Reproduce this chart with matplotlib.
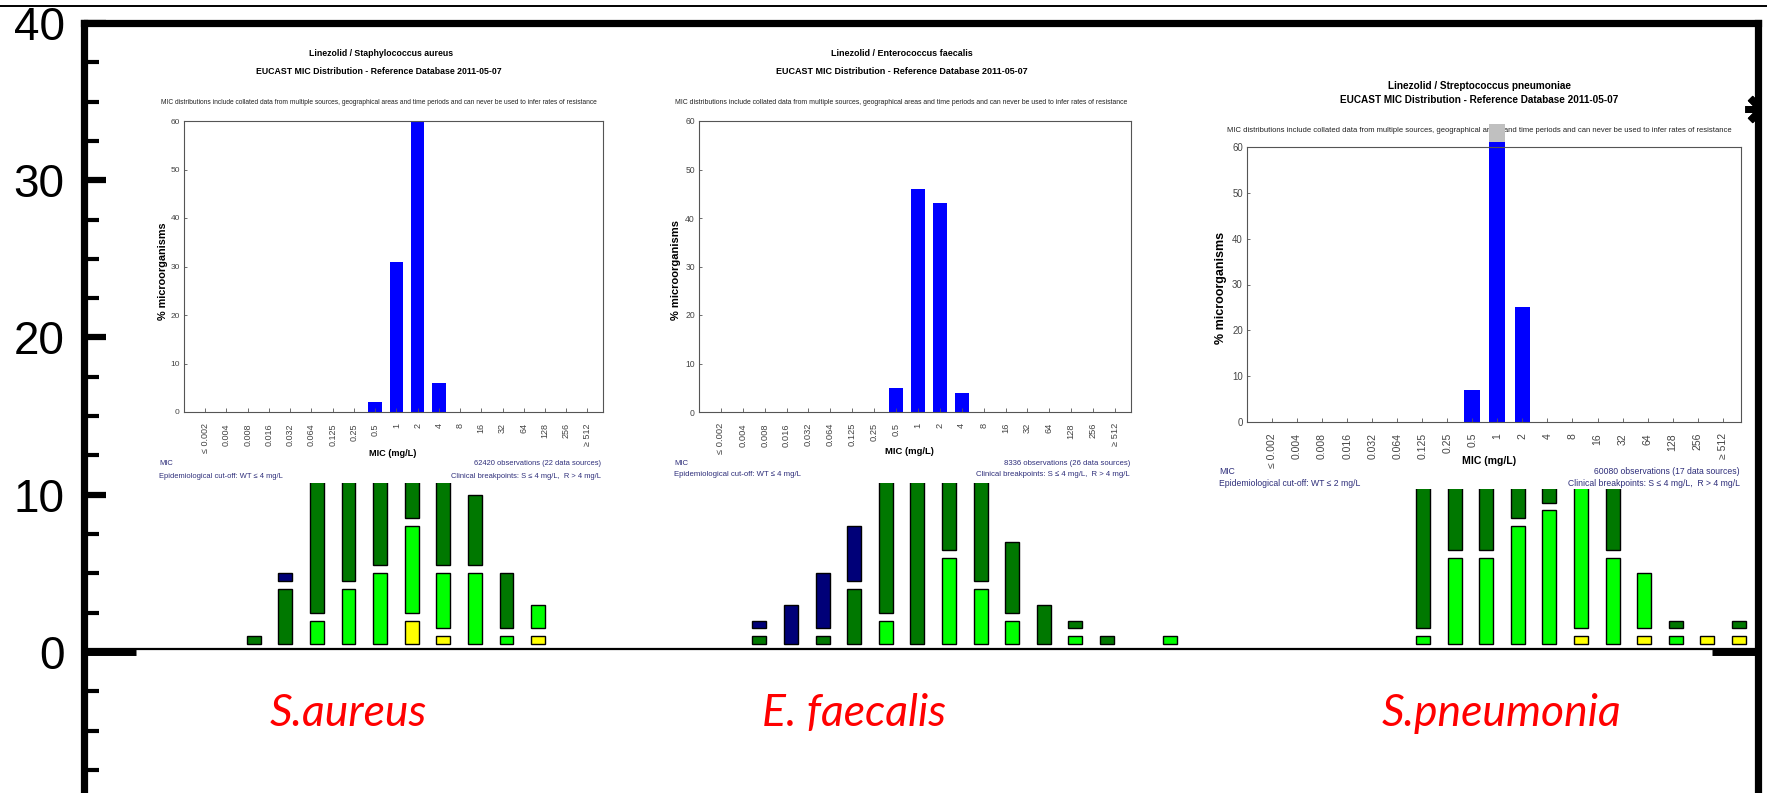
import numpy as np
import matplotlib.pyplot as plt
from matplotlib import font_manager
from matplotlib.lines import Line2D

W, H = 1767, 793
DPI = 100

installed = {f.name for f in font_manager.fontManager.ttflist}
NARROW = 'Liberation Sans Narrow' if 'Liberation Sans Narrow' in installed else 'Liberation Sans'

# MIC scale used by the EUCAST distribution panels
mic_labels = ['≤ 0.002', '0.004', '0.008', '0.016', '0.032', '0.064', '0.125', '0.25', '0.5',
              '1', '2', '4', '8', '16', '32', '64', '128', '256', '≥ 512']

# % of isolates per MIC (EUCAST linezolid distributions)
sa_pct = [0, 0, 0, 0, 0, 0, 0, 0, 2, 31, 60, 6, 0, 0, 0, 0, 0, 0, 0]
ef_pct = [0, 0, 0, 0, 0, 0, 0, 0, 5, 46, 43, 4, 0, 0, 0, 0, 0, 0, 0]
sp_pct = [0, 0, 0, 0, 0, 0, 0, 0, 7, 61, 25, 0, 0, 0, 0, 0, 0, 0, 0]

# stacked counts per slot: yellow, light green, dark green, navy (bottom -> top)
sa_yellow = [0, 0, 0, 0, 0, 2, 1, 0, 0, 1]
sa_light = [0, 0, 2, 4, 5, 6, 4, 5, 1, 2]
sa_dark = [1, 4, 12, 10, 9, 6, 9, 5, 4, 0]
sa_navy = [0, 1, 0, 0, 0, 0, 0, 0, 0, 0]

ef_yellow = [0, 0, 0, 0, 0, 0, 0, 0, 0, 0, 0, 0, 0, 0]
ef_light = [0, 0, 0, 0, 2, 0, 6, 4, 2, 0, 1, 0, 0, 1]
ef_dark = [1, 0, 1, 4, 11, 15, 8, 9, 5, 3, 1, 1, 0, 0]
ef_navy = [1, 3, 4, 4, 0, 0, 0, 0, 0, 0, 0, 0, 0, 0]

sp_yellow = [0, 0, 0, 0, 0, 1, 0, 1, 0, 1, 1]
sp_light = [1, 6, 6, 8, 9, 12, 6, 4, 1, 0, 0]
sp_dark = [13, 8, 8, 5, 3, 0, 7, 0, 1, 0, 1]
sp_navy = [0, 0, 0, 0, 0, 0, 0, 0, 0, 0, 0]

organisms = ['S.aureus', 'E. faecalis', 'S.pneumonia']
group_start = [0, 16, 37]

COLORS = ['#ffff00', '#00ff00', '#007800', '#000078']


def fbox(x0, y0, x1, y1):
    # pixel box (origin top-left) -> figure fraction rect
    return [x0 / W, 1 - y1 / H, (x1 - x0) / W, (y1 - y0) / H]


def stack(ax, x, layers):
    base = np.zeros(len(x))
    for counts, color in zip(layers, COLORS):
        counts = np.asarray(counts, float)
        m = counts > 0
        ax.bar(x[m], counts[m] - 0.5, bottom=base[m] + 0.5, width=0.44,
               color=color, edgecolor='black', linewidth=1.0, zorder=2)
        base += counts


fig = plt.figure(figsize=(W / DPI, H / DPI), dpi=DPI)
fig.add_artist(Line2D([0, 1], [1 - 6 / H] * 2, color='black', lw=1.4))

ax = fig.add_axes(fbox(84, 23, 1758, H))
ax.set_xlim(-5.37, 47.6)
ax.set_ylim(-8.97, 40)
for side in ['left', 'top', 'right']:
    ax.spines[side].set_linewidth(5.2)
ax.spines['bottom'].set_visible(False)
ax.set_xticks([])
ax.set_yticks([0, 10, 20, 30, 40])
ax.set_yticks(np.arange(-7.5, 40, 2.5), minor=True)
ax.tick_params(axis='y', which='major', direction='in', length=16, width=4.5,
               labelsize=33, pad=14)
ax.tick_params(axis='y', which='minor', direction='in', length=11, width=3)
for lab in ax.get_yticklabels():
    lab.set_fontfamily('Liberation Sans')

groups = [
    (sa_yellow, sa_light, sa_dark, sa_navy),
    (ef_yellow, ef_light, ef_dark, ef_navy),
    (sp_yellow, sp_light, sp_dark, sp_navy),
]
label_offset = [3.0, 3.0, 2.5]
for start, layers, name, off in zip(group_start, groups, organisms, label_offset):
    x = start + np.arange(len(layers[0]))
    stack(ax, x, layers)
    ax.text(start + off, -3.9, name, color='red', style='italic', fontsize=32,
            family='Lato', ha='center', va='center')

# baseline and the stubs of the heavy x axis line
ax.axhline(0.17, color='black', lw=1.6, zorder=3)
yt = ax.get_yaxis_transform()
ax.plot([0, 0.031], [0, 0], transform=yt, color='black', lw=5, solid_capstyle='butt')
ax.plot([0.9725, 1], [0, 0], transform=yt, color='black', lw=5, solid_capstyle='butt')
# asterisk sitting on the right border, only its left half shows
ax.plot([1761 / W], [1 - 109 / H], transform=fig.transFigure, marker=(8, 2, 0),
        markersize=23, mew=5, color='black', clip_on=True)

NAVY = '#2e2e7a'

panels = [
    dict(card=(110, 30, 640, 483), frame=(184, 121, 603, 412), top=60, pct=sa_pct, k=1.0,
         title='Linezolid / Staphylococcus aureus', t1=(381, 54), t2=(379, 71), note=(379, 103),
         ylab=(163, 271), mic=(393, 453), foot_l=159, foot_r=601, f1=464, f2=476,
         obs='62420 observations (22 data sources)', ecoff='Epidemiological cut-off: WT ≤ 4 mg/L'),
    dict(card=(640, 30, 1200, 483), frame=(699, 121, 1131, 412), top=60, pct=ef_pct, k=1.03,
         title='Linezolid / Enterococcus faecalis', t1=(902, 54), t2=(902, 71), note=(901, 103),
         ylab=(676, 270), mic=(909, 452), foot_l=674, foot_r=1130, f1=464, f2=475,
         obs='8336 observations (26 data sources)', ecoff='Epidemiological cut-off: WT ≤ 4 mg/L'),
    dict(card=(1200, 30, 1738, 489), frame=(1247, 147, 1741, 422), top=60, pct=sp_pct, k=1.15,
         title='Linezolid / Streptococcus pneumoniae', t1=(1479, 86), t2=(1479, 100), note=(1479, 131),
         ylab=(1221, 288), mic=(1489, 461), foot_l=1219, foot_r=1740, f1=471, f2=483,
         obs='60080 observations (17 data sources)', ecoff='Epidemiological cut-off: WT ≤ 2 mg/L'),
]

NOTE = ('MIC distributions include collated data from multiple sources, geographical areas '
        'and time periods and can never be used to infer rates of resistance')
SUB = 'EUCAST MIC Distribution - Reference Database 2011-05-07'
CLIN = 'Clinical breakpoints: S ≤ 4 mg/L,  R > 4 mg/L'

for p in panels:
    k = p['k']
    # white sheet behind each distribution panel
    card = fig.add_axes(fbox(*p['card']), zorder=2)
    card.set_facecolor('white')
    card.set_xticks([])
    card.set_yticks([])
    for s in card.spines.values():
        s.set_visible(False)

    def put(xy, s, size, **kw):
        kw.setdefault('family', NARROW)
        card.text(xy[0] / W, 1 - xy[1] / H, s, transform=fig.transFigure,
                  fontsize=size * k, **kw)

    put(p['t1'], p['title'], 6.3, weight='bold', ha='center', va='center')
    put(p['t2'], SUB, 6.3, weight='bold', ha='center', va='center')
    put(p['note'], NOTE, 4.8, ha='center', va='center', color='#222222')
    put(p['ylab'], '% microorganisms', 7.8, weight='bold', rotation=90,
        ha='center', va='center')
    put(p['mic'], 'MIC (mg/L)', 6.6, weight='bold', ha='center', va='center')
    put((p['foot_l'], p['f1']), 'MIC', 5.4, color=NAVY, ha='left', va='center')
    put((p['foot_l'], p['f2']), p['ecoff'], 5.4, color=NAVY, ha='left', va='center')
    put((p['foot_r'], p['f1']), p['obs'], 5.4, color=NAVY, ha='right', va='center')
    put((p['foot_r'], p['f2']), CLIN, 5.4, color=NAVY, ha='right', va='center')

    pa = fig.add_axes(fbox(*p['frame']), zorder=3)
    pa.set_facecolor('white')
    xs = np.arange(len(mic_labels))
    pct = np.asarray(p['pct'], float)
    pa.bar(xs, pct, width=0.63, color='#0000ff', clip_on=False)
    over = pct > p['top']
    if over.any():
        pa.bar(xs[over], 4, bottom=pct[over], width=0.63, color='#c0c0c0', clip_on=False)
    pa.set_xlim(-1, 18.73)
    pa.set_ylim(0, p['top'])
    pa.set_xticks(xs)
    pa.set_xticklabels(mic_labels, rotation=90, fontfamily=NARROW)
    pa.set_yticks(np.arange(0, 61, 10))
    for lab in pa.get_yticklabels():
        lab.set_fontfamily(NARROW)
    pa.tick_params(axis='x', direction='in', length=3, width=0.6, color='#555555',
                   pad=8, labelsize=6.5 * k, labelcolor='#444444')
    pa.tick_params(axis='y', direction='in', length=2, width=0.6, color='#555555',
                   pad=3, labelsize=6.0 * k, labelcolor='#444444')
    for s in pa.spines.values():
        s.set_color('#555555')
        s.set_linewidth(0.8)

fig.savefig('out.png', dpi=DPI)
